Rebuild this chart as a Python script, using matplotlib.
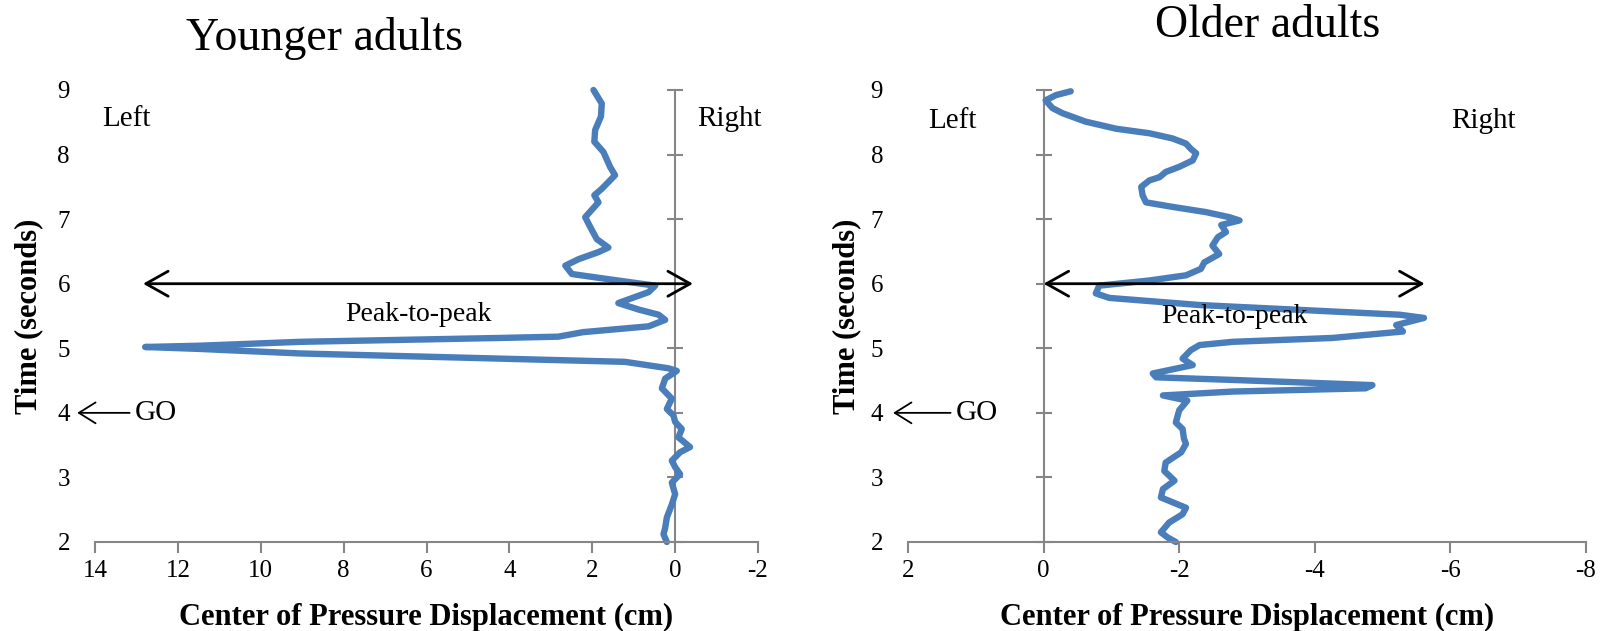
import matplotlib
matplotlib.use("Agg")
import matplotlib.pyplot as plt

plt.rcParams['font.family'] = ['Liberation Serif', 'DejaVu Serif']
plt.rcParams['axes.unicode_minus'] = False

# younger adults: time (s) and CoP displacement (cm)
young_t = [2.00, 2.12, 2.22, 2.38, 2.58, 2.74, 2.92, 3.05, 3.16, 3.26, 3.39, 3.47,
           3.62, 3.75, 3.86, 3.96, 4.06, 4.22, 4.38, 4.53, 4.65, 4.69, 4.79, 4.84,
           4.92, 4.99, 5.02, 5.04, 5.10, 5.16, 5.18, 5.25, 5.34, 5.44, 5.52, 5.60,
           5.70, 5.71, 5.87, 5.97, 6.07, 6.15, 6.28, 6.38, 6.49, 6.56, 6.69, 6.88,
           7.03, 7.26, 7.37, 7.47, 7.68, 7.81, 8.04, 8.20, 8.38, 8.59, 8.79, 9.00]
young_x = [0.20, 0.28, 0.24, 0.20, 0.08, 0.00, 0.08, -0.12, 0.00, 0.08, -0.12, -0.36,
           -0.08, -0.16, 0.00, 0.04, 0.20, 0.08, 0.32, 0.24, -0.04, 0.16, 1.21, 4.23,
           9.05, 11.47, 12.79, 11.47, 9.05, 4.23, 2.82, 2.22, 0.64, 0.24, 0.40, 0.88,
           1.37, 1.33, 0.64, 0.48, 1.61, 2.49, 2.65, 2.33, 1.85, 1.61, 1.89, 2.05,
           2.17, 1.85, 1.95, 1.77, 1.45, 1.57, 1.73, 1.95, 1.93, 1.79, 1.77, 1.97]

# older adults
old_t = [2.00, 2.07, 2.15, 2.30, 2.43, 2.53, 2.69, 2.82, 2.95, 3.10, 3.23, 3.39,
         3.52, 3.60, 3.75, 3.85, 4.04, 4.19, 4.27, 4.33, 4.38, 4.43, 4.51, 4.55,
         4.61, 4.74, 4.84, 4.97, 5.05, 5.10, 5.16, 5.26, 5.36, 5.47, 5.52, 5.57,
         5.67, 5.78, 5.85, 5.97, 6.05, 6.13, 6.23, 6.33, 6.46, 6.59, 6.72, 6.80,
         6.91, 6.98, 7.03, 7.11, 7.19, 7.26, 7.37, 7.50, 7.60, 7.65, 7.73, 7.81,
         7.91, 8.02, 8.09, 8.17, 8.25, 8.33, 8.40, 8.51, 8.64, 8.72, 8.84, 8.92, 8.98]
old_x = [-1.95, -1.83, -1.73, -1.85, -2.05, -2.10, -1.73, -1.76, -1.93, -1.78, -1.80, -2.03,
         -2.10, -2.07, -2.05, -1.95, -2.00, -2.12, -1.76, -2.79, -4.75, -4.85, -2.79, -1.66,
         -1.61, -2.20, -2.05, -2.17, -2.30, -2.79, -4.26, -5.30, -5.20, -5.61, -5.25, -4.26,
         -2.30, -0.97, -0.77, -0.82, -1.56, -2.10, -2.32, -2.37, -2.59, -2.49, -2.57, -2.69,
         -2.62, -2.89, -2.74, -2.39, -1.90, -1.51, -1.46, -1.44, -1.56, -1.71, -1.80, -2.00,
         -2.20, -2.25, -2.17, -2.10, -1.90, -1.56, -1.07, -0.62, -0.28, -0.13, -0.03, -0.18, -0.40]

blue = '#4A7EBB'
gray = '#868686'

fig = plt.figure(figsize=(16.04, 6.31), dpi=100)
ax1 = fig.add_axes([95/1604, 89/631, 663/1604, 452/631])
ax2 = fig.add_axes([908/1604, 89/631, 678/1604, 452/631])


def style(ax, xlim, xticks):
    ax.set_xlim(*xlim)
    ax.set_ylim(2, 9)
    ax.set_xticks(xticks)
    ax.set_yticks(range(2, 10))
    for s in ['top', 'right', 'left']:
        ax.spines[s].set_visible(False)
    ax.spines['bottom'].set_color(gray)
    ax.spines['bottom'].set_linewidth(1.5)
    ax.tick_params(axis='x', direction='out', length=8, width=1.5, color=gray,
                   labelsize=18, pad=5)
    ax.tick_params(axis='y', length=0, labelsize=18, pad=18)
    # vertical axis drawn at x = 0
    sec = ax.secondary_yaxis(0, transform=ax.transData)
    sec.spines['left'].set_color(gray)
    sec.spines['left'].set_linewidth(1.5)
    sec.set_yticks(range(2, 10))
    sec.tick_params(direction='inout', length=11, width=1.5, color=gray, labelleft=False)


style(ax1, (14, -2), range(14, -3, -2))
style(ax2, (2, -8), range(2, -9, -2))

ax1.plot(young_x, young_t, color=blue, lw=4.6, solid_joinstyle='round', solid_capstyle='round', clip_on=False)
ax2.plot(old_x, old_t, color=blue, lw=4.6, solid_joinstyle='round', solid_capstyle='round', clip_on=False)

arrow = dict(arrowstyle='<->,head_length=0.8,head_width=0.45', color='black', lw=2,
             mutation_scale=20, shrinkA=0, shrinkB=0)
ax1.annotate('', xy=(-0.43, 6), xytext=(12.84, 6), arrowprops=arrow, annotation_clip=False)
ax2.annotate('', xy=(-5.62, 6), xytext=(0.0, 6), arrowprops=arrow, annotation_clip=False)

ax1.text(6.2, 5.53, 'Peak-to-peak', fontsize=20, ha='center', va='center')
ax2.text(-2.82, 5.5, 'Peak-to-peak', fontsize=20, ha='center', va='center')

ax1.text(13.83, 8.55, 'Left', fontsize=21, ha='left', va='center')
ax1.text(-0.53, 8.55, 'Right', fontsize=21, ha='left', va='center', clip_on=False)
ax2.text(1.70, 8.52, 'Left', fontsize=21, ha='left', va='center')
ax2.text(-6.01, 8.52, 'Right', fontsize=21, ha='left', va='center')

go = dict(arrowstyle='->,head_length=0.8,head_width=0.5', color='black', lw=1.3,
          mutation_scale=15, shrinkA=2, shrinkB=0)
ax1.annotate('GO', xy=(14.43, 4), xytext=(13.03, 4), fontsize=21, ha='left', va='center',
             arrowprops=go, annotation_clip=False)
ax2.annotate('GO', xy=(2.22, 4), xytext=(1.29, 4), fontsize=21, ha='left', va='center',
             arrowprops=go, annotation_clip=False)

fig.text(325/1604, 1 - 39/631, 'Younger adults', fontsize=33, ha='center', va='center')
fig.text(1268/1604, 1 - 26/631, 'Older adults', fontsize=33, ha='center', va='center')

for cx in [426, 1247]:
    fig.text(cx/1604, 1 - 617/631, 'Center of Pressure Displacement (cm)',
             fontsize=22, fontweight='bold', ha='center', va='center')
for lx in [29, 847]:
    fig.text(lx/1604, 1 - 316/631, 'Time (seconds)', fontsize=22, fontweight='bold',
             rotation=90, ha='center', va='center')

fig.savefig('out.png', dpi=100)
